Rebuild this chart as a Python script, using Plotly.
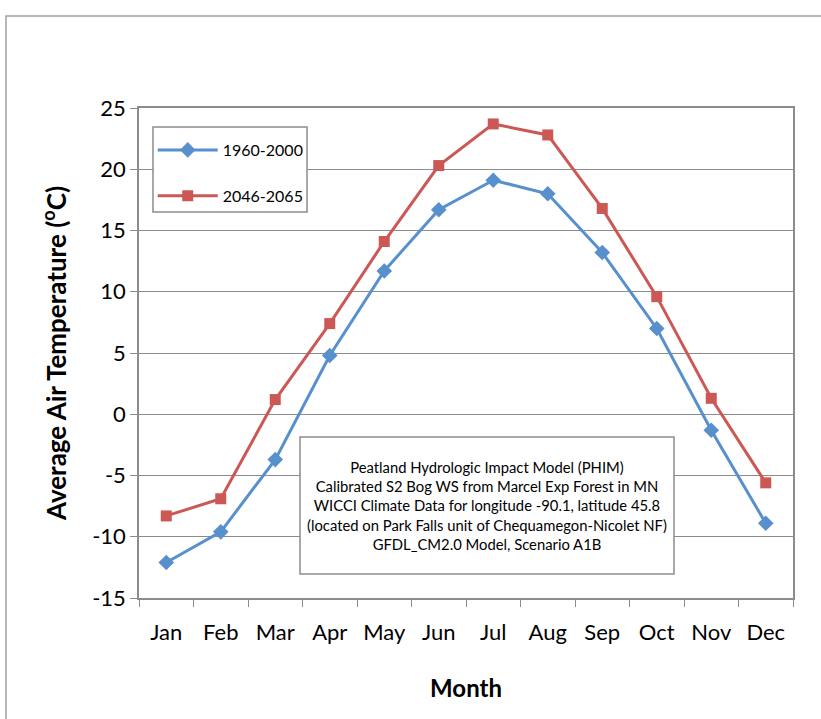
import plotly.graph_objects as go

months = ["Jan", "Feb", "Mar", "Apr", "May", "Jun", "Jul", "Aug", "Sep", "Oct", "Nov", "Dec"]
temp_1960_2000 = [-12.1, -9.6, -3.7, 4.8, 11.7, 16.7, 19.1, 18.0, 13.2, 7.0, -1.3, -8.9]
temp_2046_2065 = [-8.3, -6.9, 1.2, 7.4, 14.1, 20.3, 23.7, 22.8, 16.8, 9.6, 1.3, -5.6]
y_ticks = [-15, -10, -5, 0, 5, 10, 15, 20, 25]
y_ticktext = ["-15", "-10", "-5", "0", "5", "10", "15", "20", "25"]

FONT = "Lato, 'Open Sans', sans-serif"
GRAY = "#8C8C8C"
BLUE = "#5890CE"
RED = "#CB5855"

fig = go.Figure()
fig.add_trace(go.Scatter(
    x=months, y=temp_1960_2000, name="1960-2000", mode="lines+markers",
    legendgroup="a",
    line=dict(color=BLUE, width=3),
    marker=dict(symbol="diamond", size=12, color=BLUE),
))
fig.add_trace(go.Scatter(
    x=months, y=temp_2046_2065, name="2046-2065", mode="lines+markers",
    legendgroup="b",
    line=dict(color=RED, width=3),
    marker=dict(symbol="square", size=11, color=RED),
))

fig.update_layout(
    width=821, height=719,
    margin=dict(l=139, r=28, t=108, b=121),
    paper_bgcolor="white", plot_bgcolor="white",
    font=dict(family=FONT, color="black"),
    showlegend=True,
    legend=dict(
        x=0.021, y=(598 - 133) / 490, xanchor="left", yanchor="top",
        borderwidth=0, bgcolor="rgba(0,0,0,0)",
        font=dict(size=16, family=FONT), tracegroupgap=22,
        traceorder="grouped", itemwidth=60,
    ),
    xaxis=dict(
        type="category", range=[-0.5, 11.5], tickson="boundaries", ticks="outside", ticklen=7,
        tickcolor=GRAY, showline=True, linecolor=GRAY, linewidth=1.5, mirror=True,
        showgrid=False, tickfont=dict(size=22, family=FONT), ticklabelstandoff=14,
        title=dict(text="<b>Month</b>", font=dict(size=24, family=FONT), standoff=36),
    ),
    yaxis=dict(
        range=[-15, 25], tickvals=y_ticks, ticktext=y_ticktext,
        ticks="outside", ticklen=7, tickcolor=GRAY,
        showline=True, linecolor=GRAY, linewidth=1.5, mirror=True,
        showgrid=True, gridcolor=GRAY, gridwidth=1.2, zeroline=False,
        tickfont=dict(size=22, family=FONT),
        title=dict(text="<b>Average Air Temperature (<sup>o</sup>C)</b>",
                   font=dict(size=26, family=FONT), standoff=18),
    ),
)

# outer chart-area border
fig.add_shape(type="rect", xref="paper", yref="paper",
              x0=(6 - 139) / 654, y0=-0.5, x1=1.2, y1=(598 - 16) / 490,
              line=dict(color="#A0A0A0", width=1.5), fillcolor="rgba(0,0,0,0)", layer="below")

# legend box
fig.add_shape(type="rect", xref="paper", yref="paper",
              x0=(153 - 139) / 654, x1=(307 - 139) / 654,
              y0=(598 - 212) / 490, y1=(598 - 127) / 490,
              line=dict(color=GRAY, width=1.5), fillcolor="white", layer="above")

# annotation box
fig.add_shape(type="rect", xref="paper", yref="paper",
              x0=(300 - 139) / 654, x1=(674 - 139) / 654,
              y0=(598 - 574) / 490, y1=(598 - 437) / 490,
              line=dict(color=GRAY, width=1.5), fillcolor="white", layer="above")
fig.add_annotation(
    xref="paper", yref="paper", x=(487 - 139) / 654, y=(598 - 505) / 490,
    text=("Peatland Hydrologic Impact Model (PHIM)<br>"
          "Calibrated S2 Bog WS from Marcel Exp Forest in MN<br>"
          "WICCI Climate Data for longitude -90.1, latitude 45.8<br>"
          "(located on Park Falls unit of Chequamegon-Nicolet NF)<br>"
          "GFDL_CM2.0 Model, Scenario A1B"),
    showarrow=False, align="center", font=dict(size=14.8, family=FONT, color="black"),
    xanchor="center", yanchor="middle",
)

fig.write_html("out.html", config={"displayModeBar": False},
               post_script="document.body.style.margin='0';")
